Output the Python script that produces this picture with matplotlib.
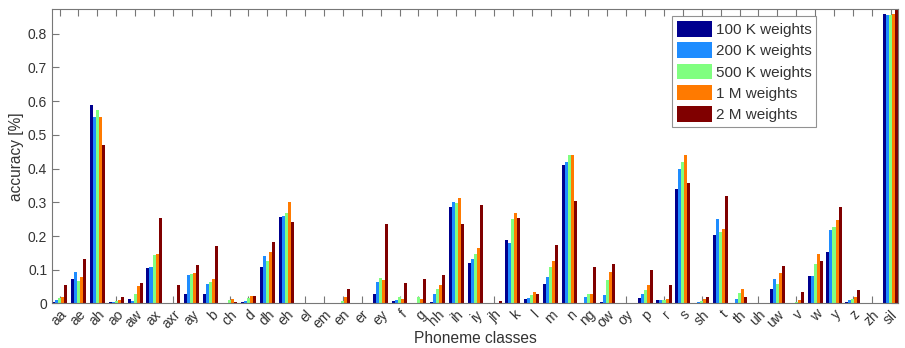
import numpy as np
import matplotlib
matplotlib.use('Agg')
import matplotlib.pyplot as plt

phonemes = ['aa', 'ae', 'ah', 'ao', 'aw', 'ax', 'axr', 'ay', 'b', 'ch', 'd', 'dh', 'eh',
            'el', 'em', 'en', 'er', 'ey', 'f', 'g', 'hh', 'ih', 'iy', 'jh', 'k', 'l', 'm',
            'n', 'ng', 'ow', 'oy', 'p', 'r', 's', 'sh', 't', 'th', 'uh', 'uw', 'v', 'w',
            'y', 'z', 'zh', 'sil']

w100k = [0.005, 0.074, 0.588, 0.005, 0.012, 0.106, 0.0, 0.027, 0.027, 0.0, 0.005, 0.107, 0.257,
         0.0, 0.0, 0.0, 0.0, 0.029, 0.006, 0.0, 0.003, 0.287, 0.119, 0.0, 0.188, 0.013, 0.057,
         0.412, 0.0, 0.005, 0.0, 0.016, 0.009, 0.340, 0.002, 0.202, 0.0, 0.0, 0.042, 0.0, 0.080,
         0.153, 0.004, 0.0, 0.858]
w200k = [0.010, 0.092, 0.554, 0.003, 0.006, 0.109, 0.0, 0.083, 0.057, 0.0, 0.006, 0.140, 0.260,
         0.0, 0.0, 0.0, 0.0, 0.065, 0.010, 0.0, 0.027, 0.302, 0.131, 0.0, 0.178, 0.017, 0.077,
         0.418, 0.018, 0.026, 0.0, 0.027, 0.011, 0.398, 0.005, 0.249, 0.012, 0.0, 0.073, 0.0, 0.080,
         0.219, 0.010, 0.0, 0.855]
w500k = [0.015, 0.066, 0.574, 0.008, 0.028, 0.143, 0.0, 0.086, 0.064, 0.010, 0.015, 0.127, 0.267,
         0.0, 0.0, 0.008, 0.0, 0.075, 0.018, 0.018, 0.042, 0.299, 0.148, 0.0, 0.249, 0.024, 0.107,
         0.441, 0.028, 0.069, 0.0, 0.039, 0.010, 0.420, 0.008, 0.212, 0.030, 0.0, 0.057, 0.005, 0.117,
         0.227, 0.012, 0.0, 0.854]
w1m = [0.020, 0.079, 0.552, 0.010, 0.053, 0.148, 0.0, 0.089, 0.074, 0.013, 0.022, 0.152, 0.302,
       0.0, 0.002, 0.018, 0.002, 0.071, 0.012, 0.014, 0.055, 0.314, 0.165, 0.002, 0.267, 0.034, 0.126,
       0.439, 0.028, 0.092, 0.0, 0.055, 0.013, 0.440, 0.012, 0.222, 0.042, 0.0, 0.091, 0.010, 0.146,
       0.248, 0.020, 0.0, 0.858]
w2m = [0.054, 0.131, 0.469, 0.020, 0.061, 0.254, 0.056, 0.114, 0.171, 0.005, 0.022, 0.183, 0.242,
       0.0, 0.0, 0.044, 0.0, 0.235, 0.062, 0.072, 0.084, 0.235, 0.293, 0.008, 0.252, 0.027, 0.174,
       0.304, 0.107, 0.116, 0.0, 0.099, 0.054, 0.358, 0.020, 0.318, 0.018, 0.0, 0.110, 0.035, 0.125,
       0.286, 0.040, 0.0, 0.880]

series = [w100k, w200k, w500k, w1m, w2m]
names = ['100 K weights', '200 K weights', '500 K weights', '1 M weights', '2 M weights']
colors = ['#00008F', '#1E8CFF', '#80FF80', '#FF7A00', '#800000']

plt.rcParams['font.family'] = ['Liberation Sans', 'DejaVu Sans']
text_col = '#333333'

fig = plt.figure(figsize=(9.05, 3.48), dpi=100)
ax = fig.add_axes([0.0575, 0.128, 0.935, 0.845])

x = np.arange(1, len(phonemes) + 1)
bw = 0.16
for i, (vals, name, c) in enumerate(zip(series, names, colors)):
    ax.bar(x + (i - 2) * bw, vals, width=bw, color=c, label=name, linewidth=0)

ax.set_axisbelow(True)
ax.set_xlim(0.6, 45.4)
ax.set_ylim(0, 0.872)
ax.set_xticks(x)
ax.set_xticklabels(phonemes, rotation=45, ha='right', rotation_mode='anchor',
                   fontsize=10, color=text_col)
ax.set_yticks(np.arange(0, 0.81, 0.1))
ax.set_yticklabels(['0'] + ['%.1f' % v for v in np.arange(0.1, 0.81, 0.1)],
                   fontsize=10, color=text_col)
ax.tick_params(axis='both', direction='in', length=5, width=0.8, color='#777777',
               top=True, right=True)
ax.tick_params(axis='x', pad=3)
for s in ax.spines.values():
    s.set_color('#777777')
    s.set_linewidth(0.8)

ax.set_xlabel('Phoneme classes', fontsize=11.2, color=text_col, labelpad=0)
ax.set_ylabel('accuracy [%]', fontsize=11.2, color=text_col, labelpad=3)

leg = ax.legend(loc='upper left', bbox_to_anchor=(0.733, 0.977), borderaxespad=0,
                fontsize=11, frameon=True, fancybox=False, edgecolor='#777777',
                handlelength=2.3, handleheight=1.2, labelspacing=0.34,
                handletextpad=0.2, borderpad=0.33)
leg.get_frame().set_linewidth(0.8)
for t in leg.get_texts():
    t.set_color(text_col)

fig.savefig('out.png', dpi=100)
